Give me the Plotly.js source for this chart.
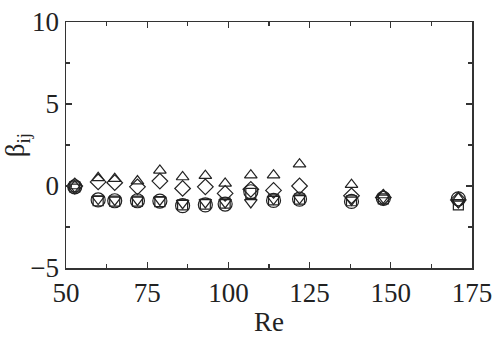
<!DOCTYPE html>
<html>
<head>
<meta charset="utf-8">
<script src="https://cdn.plot.ly/plotly-3.0.1.min.js"></script>
<style>html,body{margin:0;padding:0;background:#fff;}#chart{width:503px;height:337px;}</style>
</head>
<body>
<div id="chart"></div>
<script>
var re = [52.7, 59.9, 65, 72, 78.9, 85.9, 92.9, 99, 106.9, 113.9, 121.9, 137.9, 147.7, 170.8];
var betaUp = [0, 0.5, 0.45, 0.3, 0.95, 0.55, 0.63, 0.16, 0.66, 0.66, 1.33, 0.08, -0.55, -0.75];
var betaDiamond = [0, 0.25, 0.2, -0.05, 0.3, -0.15, -0.05, -0.45, -0.2, -0.27, 0.0, -0.6, -0.7, -0.85];
var betaCircle = [-0.05, -0.85, -0.9, -0.9, -0.92, -1.2, -1.15, -1.1, -0.35, -0.88, -0.8, -0.94, -0.75, -0.78];
var betaSquare = [-0.05, -0.9, -0.92, -0.92, -0.95, -1.15, -1.1, -1.05, -0.45, -0.85, -0.8, -0.9, -0.78, -1.15];
var betaDown = [-0.05, -0.8, -0.85, -0.85, -0.85, -1.05, -1.0, -1.0, -1.0, -0.8, -0.75, -0.85, -0.72, -1.0];

var xTicks = [50, 75, 100, 125, 150, 175];
var yTicks = [-5, 0, 5, 10];

function tr(y, sym, size) {
  return {
    x: re, y: y, type: 'scatter', mode: 'markers', showlegend: false,
    marker: {symbol: sym, size: size, color: '#222', line: {color: '#222', width: 1.2}}
  };
}

var data = [
  tr(betaCircle, 'circle-open', 14),
  tr(betaSquare, 'square-open', 10),
  tr(betaDown, 'triangle-down-open', 11),
  tr(betaDiamond, 'diamond-open', 12),
  tr(betaUp, 'triangle-up-open', 11)
];

var axisFont = {family: 'Liberation Serif, DejaVu Serif, serif', size: 27, color: '#222'};
var layout = {
  width: 503, height: 337,
  margin: {l: 66, r: 31, t: 22, b: 69},
  paper_bgcolor: '#fff', plot_bgcolor: '#fff',
  showlegend: false,
  xaxis: {
    range: [50, 175], tickvals: xTicks, ticktext: xTicks.map(String),
    ticks: 'inside', ticklen: 6, tickwidth: 1.3, tickcolor: '#333',
    minor: {dtick: 12.5, tick0: 50, ticks: 'inside', ticklen: 4, tickcolor: '#333'},
    showline: true, linecolor: '#333', linewidth: 1.5, mirror: 'allticks',
    showgrid: false, zeroline: false,
    tickfont: axisFont,
    title: {text: 'Re', font: axisFont, standoff: 6}
  },
  yaxis: {
    range: [-5, 10], tickvals: yTicks, ticktext: ['\u22125', '0', '5', '10'],
    ticks: 'inside', ticklen: 6, tickwidth: 1.3, tickcolor: '#333',
    minor: {dtick: 2.5, tick0: -5, ticks: 'inside', ticklen: 4, tickcolor: '#333'},
    showline: true, linecolor: '#333', linewidth: 1.5, mirror: 'allticks',
    showgrid: false, zeroline: false,
    tickfont: axisFont,
    title: {text: '\u03B2<sub>ij</sub>', font: axisFont, standoff: 2}
  }
};

Plotly.newPlot('chart', data, layout, {displayModeBar: false, staticPlot: true});
</script>
</body>
</html>
